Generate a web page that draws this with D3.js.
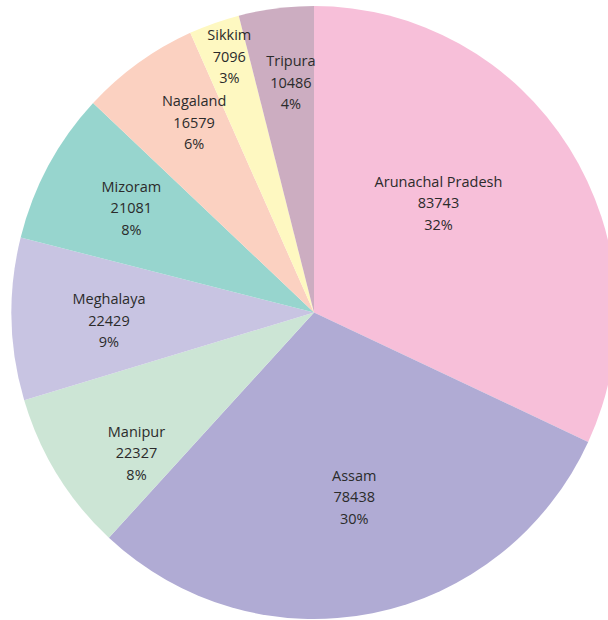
<!DOCTYPE html>
<html>
<head>
<meta charset="utf-8">
<script src="https://cdn.jsdelivr.net/npm/d3@7"></script>
<style>
  body { margin: 0; background: #fff; }
  svg { display: block; }
</style>
</head>
<body>
<div id="chart-area"></div>
<script>
const WIDTH = 608
const HEIGHT = 620
const CX = 314
const CY = 312.5
const RADIUS = 302.5
const Y_STRETCH = 306.5 / 302.5  // picture is a little taller than wide

// data
const states = ["Arunachal Pradesh", "Assam", "Manipur", "Meghalaya", "Mizoram", "Nagaland", "Sikkim", "Tripura"]
const values = [83743, 78438, 22327, 22429, 21081, 16579, 7096, 10486]
const percents = ["32%", "30%", "8%", "9%", "8%", "6%", "3%", "4%"]

const colors = ["#F7BFD9", "#B0ABD4", "#CCE5D5", "#C8C4E2", "#97D5CE", "#FBD1C1", "#FEF8C1", "#CCADC1"]

// label nudges (Excel "best fit" placement)
const nudge = {
  "Arunachal Pradesh": [-51, 3],
  "Assam": [0, -19],
  "Manipur": [-1, 31],
  "Meghalaya": [3, 4],
  "Mizoram": [0, -4],
  "Nagaland": [1, -20],
  "Sikkim": [-16, -59],
  "Tripura": [3, -23]
}

const data = states.map((s, i) => ({ name: s, value: values[i], pct: percents[i], color: colors[i] }))

const svg = d3.select("#chart-area").append("svg")
  .attr("width", WIDTH)
  .attr("height", HEIGHT)

const g = svg.append("g")
  .attr("transform", `translate(${CX}, ${CY})`)

const pie = d3.pie()
  .value(d => d.value)
  .sort(null)

const arc = d3.arc()
  .innerRadius(0)
  .outerRadius(RADIUS)

const labelArc = d3.arc()
  .innerRadius(306 * 0.68)
  .outerRadius(306 * 0.68)

const arcs = pie(data)

g.append("g")
  .attr("transform", `scale(1, ${Y_STRETCH})`)
  .selectAll("path")
  .data(arcs)
  .enter().append("path")
    .attr("d", arc)
    .attr("fill", d => d.data.color)

const labels = g.selectAll("text.label")
  .data(arcs)
  .enter().append("text")
    .attr("class", "label")
    .attr("transform", d => {
      const c = labelArc.centroid(d)
      const n = nudge[d.data.name]
      return `translate(${c[0] + n[0]}, ${c[1] + n[1] - 0.5})`
    })
    .attr("text-anchor", "middle")
    .attr("font-family", "'Open Sans', sans-serif")
    .attr("font-size", "14.5px")
    .attr("fill", "#2b2b2b")

labels.each(function(d) {
  const t = d3.select(this)
  const lines = [d.data.name, d.data.value, d.data.pct]
  lines.forEach((l, i) => {
    t.append("tspan")
      .attr("x", 0)
      .attr("y", (i - 1) * 21.5)
      .attr("dy", "0.35em")
      .text(l)
  })
})
</script>
</body>
</html>
